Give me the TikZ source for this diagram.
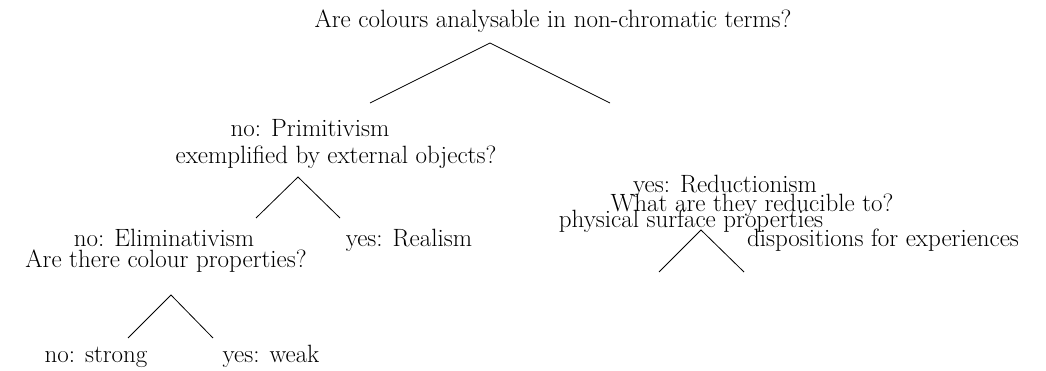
\documentclass[tikz,border=0pt]{standalone}
\tikzset{
  lbl/.style={anchor=base, inner sep=0pt, font=\fontsize{25}{30}\selectfont},
  branch/.style={line width=0.8pt, black}
}
\begin{document}
\begin{tikzpicture}[x=1pt,y=-1pt]
\useasboundingbox (0,0) rectangle (1046,371);
% texts
\node[lbl] (root)   at (553,28)  {Are colours analysable in non-chromatic terms?};
\node[lbl] (prim1)  at (310,137) {no: Primitivism};
\node[lbl] (prim2)  at (336,164) {exemplified by external objects?};
\node[lbl] (elim1)  at (164,247) {no: Eliminativism};
\node[lbl] (elim2)  at (166,267) {Are there colour properties?};
\node[lbl] (real)   at (409,247) {yes: Realism};
\node[lbl] (strong) at (96,362)  {no: strong};
\node[lbl] (weak)   at (271,362) {yes: weak};
\node[lbl] (red1)   at (725,193) {yes: Reductionism};
\node[lbl] (red2)   at (752,212) {What are they reducible to?};
\node[lbl] (phys)   at (691,228) {physical surface properties};
\node[lbl] (disp)   at (883,247) {dispositions for experiences};
% branch points
\coordinate (rA) at (490,43);
\coordinate (rL) at (370,103);
\coordinate (rR) at (610,103);
\coordinate (pA) at (298,177);
\coordinate (pL) at (256,218);
\coordinate (pR) at (340,218);
\coordinate (eA) at (171,295);
\coordinate (eL) at (128,338);
\coordinate (eR) at (213,338);
\coordinate (dA) at (701,230);
\coordinate (dL) at (659,272);
\coordinate (dR) at (744,272);
% branches
\draw[branch] (rL) -- (rA) -- (rR);
\draw[branch] (pL) -- (pA) -- (pR);
\draw[branch] (eL) -- (eA) -- (eR);
\draw[branch] (dL) -- (dA) -- (dR);
\end{tikzpicture}
\end{document}
